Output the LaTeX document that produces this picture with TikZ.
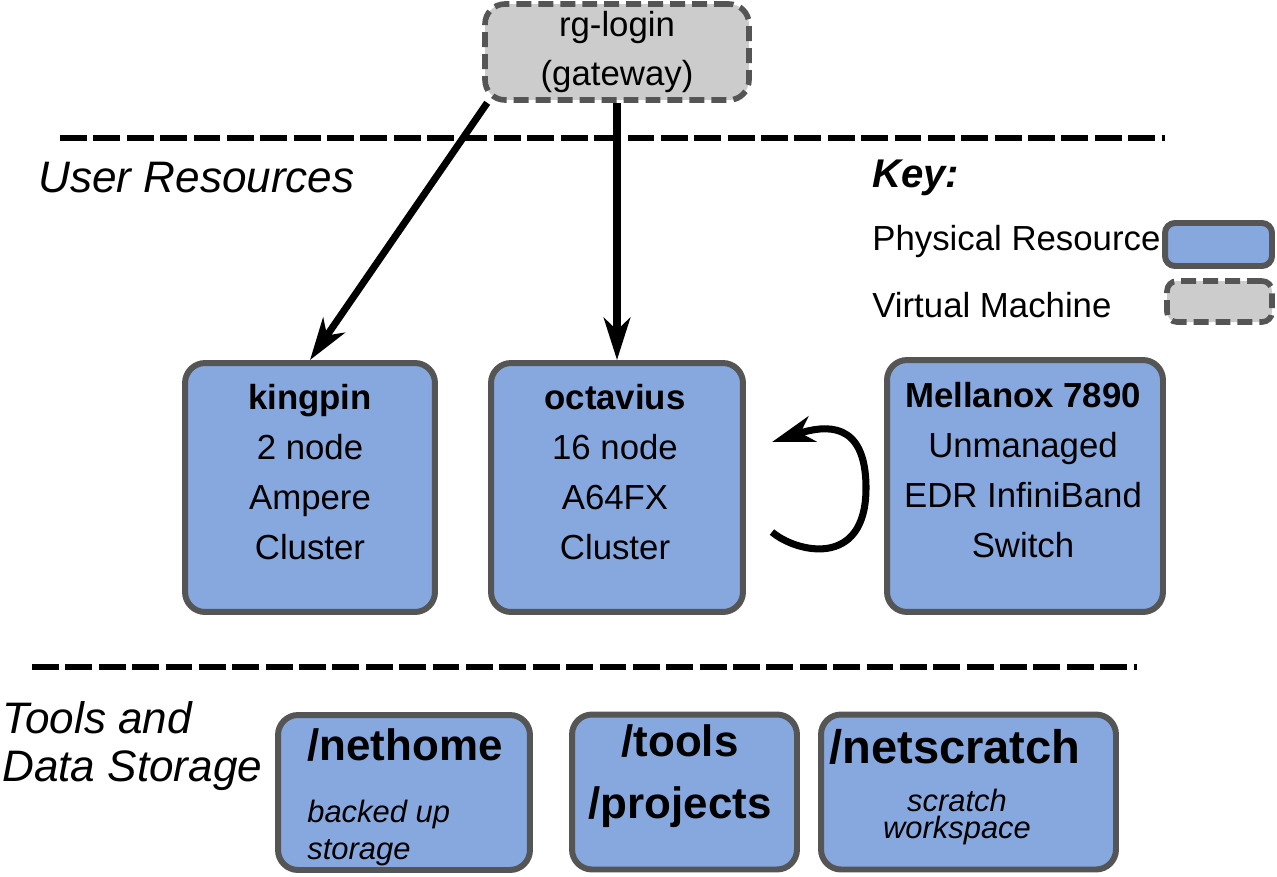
\documentclass[tikz,border=0pt]{standalone}
\usepackage{fontspec}
\setmainfont{Liberation Sans}
\usetikzlibrary{arrows.meta}

\definecolor{resblue}{RGB}{134,168,222}
\definecolor{vmgray}{RGB}{204,204,204}
\definecolor{edgegray}{RGB}{85,85,85}

\begin{document}
\begin{tikzpicture}[x=0.02cm,y=-0.02cm,
    phys/.style={draw=edgegray, fill=resblue, line width=3.4pt, rounded corners=0.4cm, inner sep=0pt},
    virt/.style={draw=edgegray, fill=vmgray, line width=3.2pt, rounded corners=0.4cm, dash pattern=on 8.5pt off 4pt, inner sep=0pt},
    sep/.style={line width=3.4pt, dash pattern=on 15.3pt off 3.7pt},
    link/.style={line width=4pt, -{Stealth[length=24pt,width=15pt,inset=7pt]}},
    txt/.style={font=\fontsize{19.8pt}{28.35pt}\selectfont, align=center, inner sep=0pt},
    big/.style={font=\fontsize{25pt}{35.2pt}\selectfont\bfseries, align=center, inner sep=0pt},
    note/.style={font=\fontsize{17.6pt}{21pt}\selectfont\itshape, inner sep=0pt},
    head/.style={font=\fontsize{25.1pt}{27.2pt}\selectfont\itshape, align=left, inner sep=0pt, anchor=west}]

\useasboundingbox (0,0) rectangle (1277,876);

% gateway
\node[virt, txt, minimum width=5.28cm, minimum height=1.92cm] (gateway) at (617,52) {rg-login\\(gateway)};

% separators
\draw[sep] (60,138) -- (1165,138);
\draw[sep] (32,667) -- (1137,667);

\node[head] (user) at (38,178) {User Resources};
\node[head] (storage) at (2,746) {Tools and\\Data Storage};

% key
\node[head, font=\fontsize{22.8pt}{27pt}\selectfont\bfseries\itshape] (key) at (872,178) {Key:};
\node[txt, anchor=west] (keyphys) at (872,242) {Physical Resource};
\node[txt, anchor=west] (keyvirt) at (872,305) {Virtual Machine};
\node[phys, rounded corners=0.2cm, minimum width=2.14cm, minimum height=0.86cm] (physbox) at (1218.5,244.5) {};
\node[virt, rounded corners=0.2cm, minimum width=2.1cm, minimum height=0.82cm] (virtbox) at (1219.5,301.5) {};

% user resources
\node[phys, minimum width=5cm, minimum height=4.98cm] (kingpin) at (310,487.5) {};
\node[txt] (kingpin-t) at (310,472) {\textbf{kingpin}\\2 node\\Ampere\\Cluster};

\node[phys, minimum width=5.04cm, minimum height=4.98cm] (octavius) at (617,487.5) {};
\node[txt] (octavius-t) at (615,472) {\textbf{octavius}\\16 node\\A64FX\\Cluster};

\node[phys, minimum width=5.52cm, minimum height=5.04cm] (mellanox) at (1025,486) {};
\node[txt] (mellanox-t) at (1023,470) {\textbf{Mellanox 7890}\\Unmanaged\\EDR InfiniBand\\Switch};

\draw[link] ([xshift=0.1cm]gateway.south west) -- (kingpin.north);
\draw[link] (gateway.south) -- (octavius.north);

\coordinate (loop-a) at (772,532);
\coordinate (loop-b) at (772,442);
\draw[link] (loop-a) .. controls (795,552) and (866,570) .. (866,488)
    .. controls (866,420) and (825,425) .. (loop-b);

% storage
\node[phys, minimum width=5.04cm, minimum height=3.1cm] (nethome) at (404,792.5) {};
\node[big, anchor=west] (nethome-t) at (307,745) {/nethome};
\node[note, anchor=west, align=left] (nethome-d) at (307,833) {backed up\\storage};

\node[phys, minimum width=4.5cm, minimum height=3.1cm] (tools) at (684.5,792) {};
\node[big] (tools-t) at (680,776) {/tools\\/projects};

\node[phys, minimum width=5.9cm, minimum height=3.1cm] (netscratch) at (968.5,792) {};
\node[big, font=\fontsize{26.8pt}{30pt}\selectfont\bfseries] (netscratch-t) at (955,747) {/netscratch};
\node[note, align=center, font=\fontsize{17.6pt}{15.9pt}\selectfont\itshape] (netscratch-d) at (957,817) {scratch\\workspace};

\end{tikzpicture}
\end{document}
